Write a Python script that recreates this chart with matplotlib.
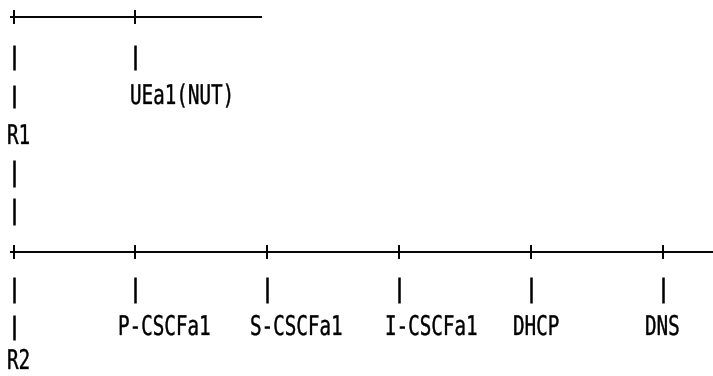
import matplotlib
matplotlib.use("Agg")
import matplotlib.pyplot as plt
from matplotlib.patheffects import AbstractPathEffect
from matplotlib.transforms import Affine2D

# --- content of the diagram (pixel layout of the reference) ---
top_nodes = ["UEa1(NUT)"]
bottom_nodes = ["P-CSCFa1", "S-CSCFa1", "I-CSCFa1", "DHCP", "DNS"]
routers = ["R1", "R2"]

top_cols = [14, 135]
bottom_cols = [14, 135, 267, 399, 531, 663]
top_label_x = [130]
bottom_label_x = [118, 250, 385, 513, 645]

FONT = ["DejaVu Sans Mono"]
FS = 19.5
SQUEEZE = 0.71

fig = plt.figure(figsize=(7.13, 3.76), dpi=100)
ax = fig.add_axes([0, 0, 1, 1])
ax.set_xlim(0, 713)
ax.set_ylim(376, 0)
ax.axis("off")


class SqueezeX(AbstractPathEffect):
    """Narrow a real text horizontally around its left edge."""
    def __init__(self, x_data, sx):
        super().__init__()
        self.x_data = x_data
        self.sx = sx

    def draw_path(self, renderer, gc, tpath, affine, rgbFace=None):
        x0 = ax.transData.transform((self.x_data, 0))[0]
        aff = affine + Affine2D().translate(-x0, 0).scale(self.sx, 1).translate(x0, 0)
        gc0 = renderer.new_gc()
        gc0.copy_properties(gc)
        gc0.set_linewidth(0.25)
        gc0.set_foreground("black")
        renderer.draw_path(gc0, tpath, aff, rgbFace)
        gc0.restore()


def hline(y, x0, x1, cols):
    ax.plot([x0, x1], [y, y], color="black", lw=1.4, solid_capstyle="butt")
    for c in cols:
        ax.plot([c, c], [y - 6, y + 6], color="black", lw=1.4)

def bar(x, y0, y1):
    ax.plot([x, x], [y0, y1], color="black", lw=1.8, solid_capstyle="butt")

def label(x, y, s):
    ax.text(x, y, s, fontsize=FS, family=FONT, ha="left", va="center",
            color="black", path_effects=[SqueezeX(x, SQUEEZE)])

# Row 1: top bus
hline(17, 10, 262, top_cols)
# Row 2: drops
for c in top_cols:
    bar(c, 45, 70)
# Row 3
bar(top_cols[0], 85, 108)
for x, s in zip(top_label_x, top_nodes):
    label(x, 97, s)
# Row 4
label(7, 137, routers[0])
# Rows 5-6
bar(top_cols[0], 160, 187)
bar(top_cols[0], 198, 225)
# Row 7: bottom bus
hline(252, 10, 713, bottom_cols)
# Row 8
for c in bottom_cols:
    bar(c, 277, 303)
# Row 9
bar(bottom_cols[0], 315, 340)
for x, s in zip(bottom_label_x, bottom_nodes):
    label(x, 328, s)
# Row 10
label(7, 362, routers[1])

fig.savefig("out.png", dpi=100)
